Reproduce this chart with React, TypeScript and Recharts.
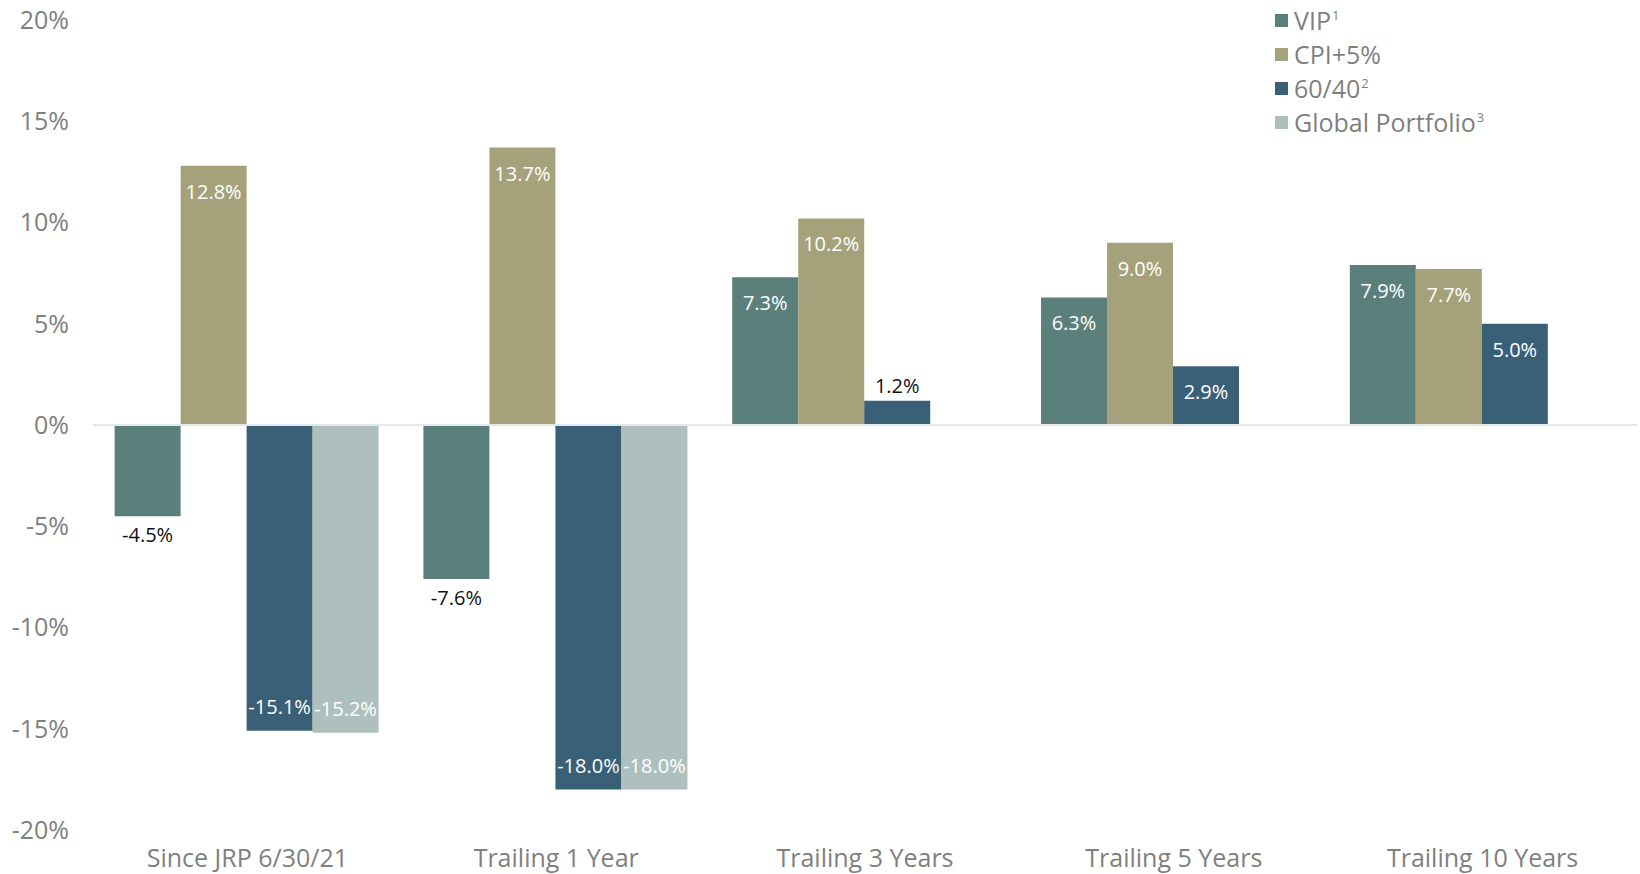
import { BarChart, Bar, XAxis, YAxis, ReferenceLine, Legend, LabelList } from "recharts";

const categories = [
  "Since JRP 6/30/21",
  "Trailing 1 Year",
  "Trailing 3 Years",
  "Trailing 5 Years",
  "Trailing 10 Years",
];
const vip = [-4.5, -7.6, 7.3, 6.3, 7.9];
const cpiPlus5 = [12.8, 13.7, 10.2, 9.0, 7.7];
const sixtyForty = [-15.1, -18.0, 1.2, 2.9, 5.0];
const globalPortfolio = [-15.2, -18.0, null, null, null];
const yTicks = [-20, -15, -10, -5, 0, 5, 10, 15, 20];

const series = [
  { key: "vip", name: "VIP", note: "1", color: "#5b807b", negOutside: true },
  { key: "cpi", name: "CPI+5%", note: "", color: "#a5a27b", negOutside: false },
  { key: "sixtyForty", name: "60/40", note: "2", color: "#3a6078", negOutside: false },
  { key: "global", name: "Global Portfolio", note: "3", color: "#aec0be", negOutside: false },
];

const data = categories.map((name, i) => ({
  name,
  vip: vip[i],
  cpi: cpiPlus5[i],
  sixtyForty: sixtyForty[i],
  global: globalPortfolio[i],
}));

const FONT = "'Open Sans', sans-serif";
const GREY = "#7f7f7f";

function makeLabel(negOutside: boolean) {
  return (props: any) => {
    const { x, y, width, height, value } = props;
    if (value == null) return null;
    const top = Math.min(y, y + height);
    const bottom = Math.max(y, y + height);
    let cy: number;
    let fill: string;
    if (value >= 0) {
      if (bottom - top >= 40) {
        cy = top + 26;
        fill = "#ffffff";
      } else {
        cy = top - 15;
        fill = "#111111";
      }
    } else if (negOutside) {
      cy = bottom + 19;
      fill = "#111111";
    } else {
      cy = bottom - 24;
      fill = "#ffffff";
    }
    return (
      <text
        x={x + width / 2}
        y={cy + 7}
        textAnchor="middle"
        fill={fill}
        fontSize={20}
        fontFamily={FONT}
      >
        {Number(value).toFixed(1)}%
      </text>
    );
  };
}

// keep the legend in series order (recharts sorts by name otherwise)
const renderLegend = (props: any) => {
  const payload = props.payload ?? [];
  return (
    <div style={{ fontFamily: FONT, fontSize: 25, color: GREY }}>
      {series.map((s) => {
        const entry = payload.find((p: any) => p.dataKey === s.key);
        return (
          <div
            key={s.key}
            style={{ display: "flex", alignItems: "center", height: 34, whiteSpace: "nowrap" }}
          >
            <span
              style={{
                display: "inline-block",
                width: 13,
                height: 13,
                marginRight: 6,
                background: entry ? entry.color : s.color,
              }}
            />
            <span>
              {s.name}
              {s.note ? (
                <span style={{ fontSize: 13, position: "relative", top: -10, marginLeft: 1 }}>
                  {s.note}
                </span>
              ) : null}
            </span>
          </div>
        );
      })}
    </div>
  );
};

export default function App() {
  return (
    <div style={{ position: "absolute", left: 0, top: 0 }}>
      <BarChart
        width={1640}
        height={874}
        data={data}
        margin={{ top: 20, right: 3, bottom: 0, left: 0 }}
        barCategoryGap="7%"
        barGap={0}
      >
        <XAxis
          dataKey="name"
          height={44}
          axisLine={false}
          tickLine={false}
          tickSize={0}
          tickMargin={19}
          tick={{ fill: GREY, fontSize: 25, fontFamily: FONT }}
        />
        <YAxis
          width={93}
          domain={[-20, 20]}
          ticks={yTicks}
          axisLine={false}
          tickLine={false}
          tickSize={0}
          tickMargin={24}
          tickFormatter={(v) => `${v}%`}
          tick={{ fill: GREY, fontSize: 25, fontFamily: FONT }}
        />
        <ReferenceLine y={0} stroke="#e3e8e8" strokeWidth={2} />
        {series.map((s) => (
          <Bar key={s.key} dataKey={s.key} name={s.name} fill={s.color} isAnimationActive={false}>
            <LabelList dataKey={s.key} content={makeLabel(s.negOutside)} />
          </Bar>
        ))}
        <Legend
          layout="vertical"
          align="center"
          verticalAlign="middle"
          wrapperStyle={{ top: 3, left: 1275, width: "auto", height: "auto" }}
          content={renderLegend}
        />
      </BarChart>
    </div>
  );
}
